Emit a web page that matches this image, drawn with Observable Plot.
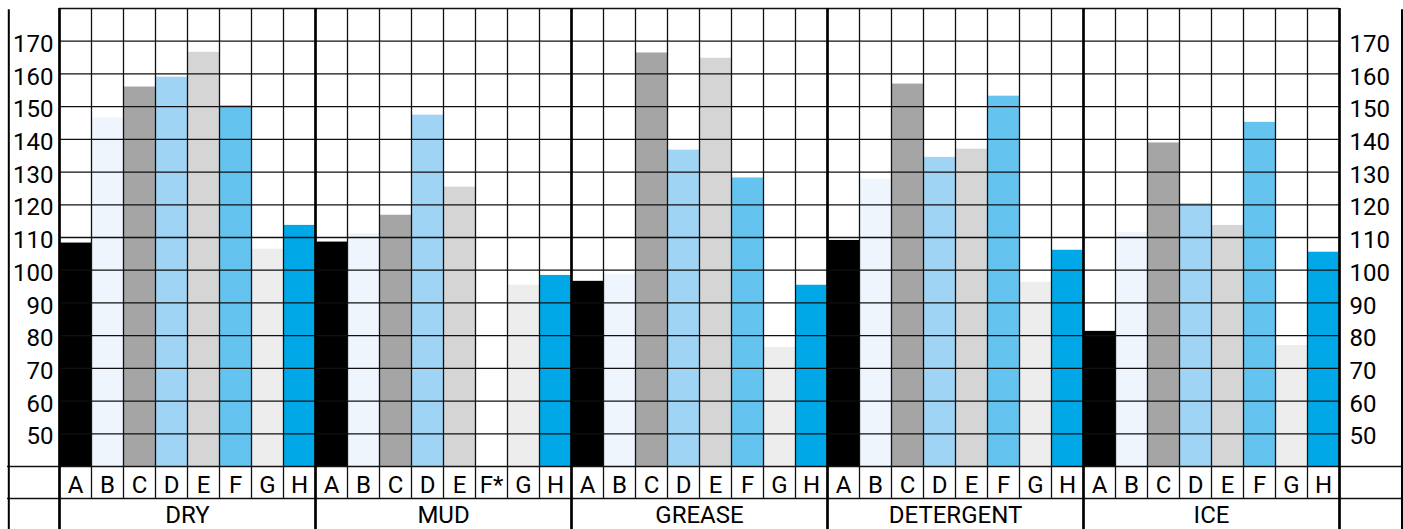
<!DOCTYPE html>
<html>
<head>
<meta charset="utf-8">
<script src="https://cdn.jsdelivr.net/npm/d3@7"></script>
<script src="https://cdn.jsdelivr.net/npm/@observablehq/plot@0.6"></script>
<style>
  html, body { margin: 0; padding: 0; background: #fff; }
</style>
</head>
<body>
<div id="chart"></div>
<script>
// ---- data ----
const groups = ["DRY", "MUD", "GREASE", "DETERGENT", "ICE"];
const letters = ["A", "B", "C", "D", "E", "F", "G", "H"];
const letterLabels = {
  DRY:       ["A", "B", "C", "D", "E", "F", "G", "H"],
  MUD:       ["A", "B", "C", "D", "E", "F*", "G", "H"],
  GREASE:    ["A", "B", "C", "D", "E", "F", "G", "H"],
  DETERGENT: ["A", "B", "C", "D", "E", "F", "G", "H"],
  ICE:       ["A", "B", "C", "D", "E", "F", "G", "H"]
};
const dryValues       = [108.3, 146.5, 156.0, 159.0, 166.6, 150.3, 106.4, 113.7];
const mudValues       = [108.6, 111.2, 116.8, 147.4, 125.4, null, 95.4, 98.4];
const greaseValues    = [96.6, 98.7, 166.4, 136.7, 164.8, 128.2, 76.4, 95.4];
const detergentValues = [109.1, 127.8, 156.9, 134.5, 137.0, 153.2, 96.3, 106.1];
const iceValues       = [81.3, 111.6, 138.9, 120.4, 113.7, 145.2, 77.0, 105.5];
const seriesValues = [dryValues, mudValues, greaseValues, detergentValues, iceValues];
const letterColors = ["#000000", "#eef5fc", "#a5a5a5", "#a0d4f5", "#d5d5d5", "#64c4ef", "#ededed", "#00a8e8"];
const yTicks = [50, 60, 70, 80, 90, 100, 110, 120, 130, 140, 150, 160, 170];
const yMin = 40, yMax = 180;

// ---- derived table ----
const nPer = letters.length;
const cells = [];
groups.forEach((g, gi) => {
  letters.forEach((l, li) => {
    cells.push({i: gi * nPer + li, group: g, letter: l, label: letterLabels[g][li], value: seriesValues[gi][li]});
  });
});
const bars = cells.filter(d => d.value != null);
const nCols = cells.length;
const colBounds = d3.range(0, nCols + 1);
const thinBounds = colBounds.filter(b => b % nPer !== 0);
const thickBounds = colBounds.filter(b => b % nPer === 0);
const hGrid = d3.range(yMin + 10, yMax + 1, 10);

const W = 1403, H = 529;
const mL = 59, mR = 64, mT = 8, mB = 63;
const rowH = 32;
const fs = 24;

const chart = Plot.plot({
  width: W,
  height: H,
  marginLeft: mL,
  marginRight: mR,
  marginTop: mT,
  marginBottom: mB,
  style: {fontFamily: "Roboto, 'Liberation Sans', sans-serif", fontSize: fs + "px", background: "#fff", color: "#000", overflow: "visible"},
  x: {domain: [0, nCols], axis: null},
  y: {domain: [yMin, yMax], axis: null},
  color: {domain: letters, range: letterColors},
  marks: [
    // bars
    Plot.rectY(bars, {x1: "i", x2: d => d.i + 1, y1: yMin, y2: "value", fill: "letter"}),
    // horizontal grid in plot area
    Plot.ruleY(hGrid, {stroke: "#111", strokeWidth: 1.3}),
    // full-width lines: top of letter row and top of group row
    Plot.ruleY([yMin], {stroke: "#111", strokeWidth: 1.5, insetLeft: -(mL - 7), insetRight: -(mR)}),
    Plot.ruleY([yMin], {stroke: "#111", strokeWidth: 1.5, insetLeft: -(mL - 7), insetRight: -(mR), dy: rowH}),
    // thin column lines (plot area + letter row)
    Plot.ruleX(thinBounds, {stroke: "#111", strokeWidth: 1.3, insetBottom: -rowH}),
    // thick group lines (whole height)
    Plot.ruleX(thickBounds, {stroke: "#000", strokeWidth: 2.7, insetBottom: -mB}),
    // outer frame verticals
    Plot.ruleX([0], {stroke: "#000", strokeWidth: 2, dx: -(mL - 8.3), insetTop: 1.3, insetBottom: -mB}),
    Plot.ruleX([nCols], {stroke: "#000", strokeWidth: 2, dx: mR - 1.5, insetTop: 1.3, insetBottom: -mB}),
    // y axis labels both sides
    Plot.axisY(yTicks, {anchor: "left", label: null, tickSize: 0, tickPadding: 6, dy: 3, fontSize: fs}),
    Plot.axisY(yTicks, {anchor: "right", label: null, tickSize: 0, tickPadding: 10, dy: 3, fontSize: fs}),
    // letter row labels
    Plot.text(cells, {x: d => d.i + 0.5, y: yMin, text: "label", dy: 19, fontSize: fs}),
    // group labels
    Plot.text(groups, {x: (d, gi) => gi * nPer + nPer / 2, y: yMin, text: d => d, dy: 49, fontSize: fs})
  ]
});
document.getElementById("chart").appendChild(chart);
</script>
</body>
</html>
